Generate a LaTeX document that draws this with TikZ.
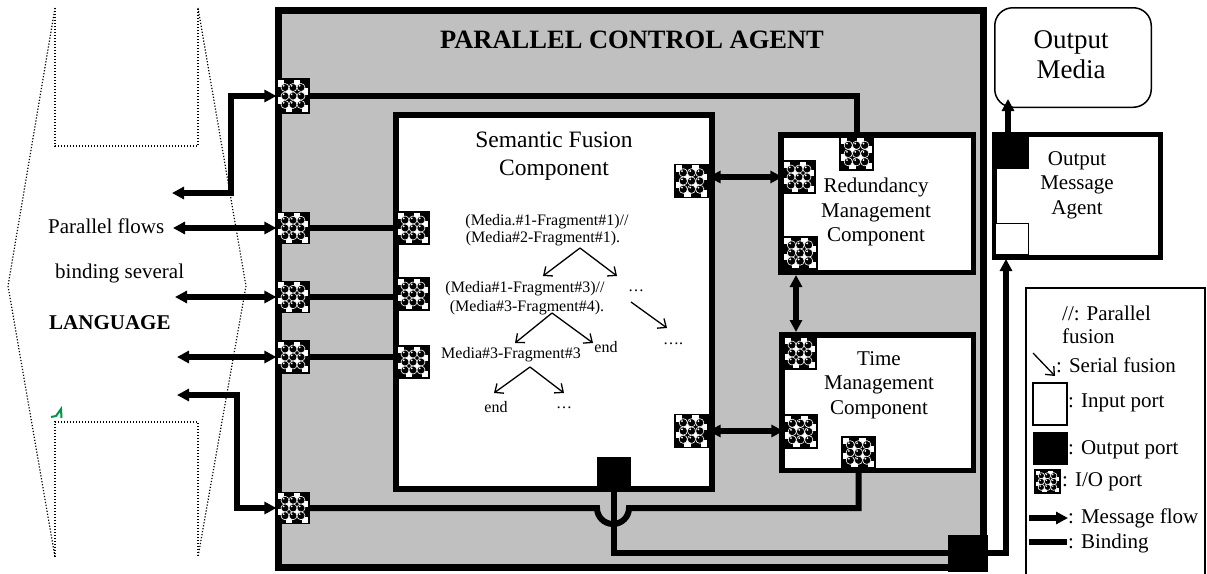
\documentclass[tikz,border=0pt]{standalone}
\usepackage{fontspec}
\setmainfont{Liberation Serif}
\usetikzlibrary{arrows.meta}
\definecolor{panelgray}{RGB}{192,192,192}
\definecolor{markgreen}{RGB}{0,150,70}

\tikzset{
  bind/.style={line width=6pt, line cap=butt, line join=miter},
  msg/.style={bind, -{Triangle[length=12pt,width=12pt]}},
  bimsg/.style={bind, {Triangle[length=12pt,width=12pt]}-{Triangle[length=12pt,width=12pt]}},
  tarrow/.style={line width=1.3pt, -{Straight Barb[length=7pt,width=12pt,line width=1.3pt]}},
  dotline/.style={line width=1.2pt, dash pattern=on 1.2pt off 1.8pt},
  box/.style={draw=black, fill=white, inner sep=0pt},
  ioportbox/.style={draw=black, fill=black, line width=1.2pt, inner sep=0pt},
  outportbox/.style={draw=black, fill=black, line width=1pt, inner sep=0pt},
  inportbox/.style={draw=black, fill=white, line width=1.5pt, inner sep=0pt},
  titletext/.style={font=\fontsize{26.5}{30}\selectfont\bfseries, inner sep=0pt},
  semtext/.style={font=\fontsize{23.5}{28}\selectfont, align=center, inner sep=0pt},
  comptext/.style={font=\fontsize{21}{24.5}\selectfont, align=center, inner sep=0pt},
  sidetext/.style={font=\fontsize{21}{24}\selectfont, anchor=west, inner sep=0pt},
  treetext/.style={font=\fontsize{16}{19}\selectfont, inner sep=0pt},
  legtext/.style={font=\fontsize{21}{24}\selectfont, anchor=west, inner sep=0pt},
  mediatext/.style={font=\fontsize{27}{30}\selectfont, align=center, inner sep=0pt},
}

% I/O port: black square with a white checker and dark shaded balls
\newcommand\ioport[5]{%
  \node[ioportbox, minimum width=#4pt, minimum height=#5pt] (#1) at (#2,#3) {};
  \foreach \i in {0,...,3}{%
    \foreach \j in {0,...,3}{%
      \pgfmathtruncatemacro\ioparity{mod(\i+\j,2)}%
      \ifnum\ioparity=0
        \fill[white] ({#2-#4/2+\i*#4/4+0.8},{#3-#5/2+\j*#5/4+0.8}) rectangle ++({#4/4-1.6},{#5/4-1.6});
      \fi
    }%
  }%
  \foreach \i in {1,2,3}{%
    \foreach \j in {1,2,3}{%
      \filldraw[fill=black, draw=white, line width=0.6pt] ({#2-#4/2+\i*#4/4},{#3-#5/2+\j*#5/4}) circle[radius={#4*0.125pt}];
      \fill[white] ({#2-#4/2+\i*#4/4-#4*0.04},{#3-#5/2+\j*#5/4-#5*0.05}) circle[radius={#4*0.03pt}];
    }%
  }%
}

\begin{document}
\begin{tikzpicture}[x=1pt, y=-1pt]
\useasboundingbox (0,0) rectangle (1207,573);

% ---- dotted funnel on the left ----
\draw[dotline] (55,8) -- (55,146) -- (198,146) -- (198,8);
\draw[dotline] (55,557) -- (55,422) -- (198,422) -- (198,557);
\draw[dotline] (55,8) -- (8,286) -- (55,557);
\draw[dotline] (198,8) -- (246,286) -- (198,557);
\draw[markgreen, line width=2pt, line join=miter] (51,417) -- (56,416) -- (61,409) -- (61.5,418);

\node[sidetext] (flows) at (48,226) {Parallel flows};
\node[sidetext] (several) at (55,273) {binding several};
\node[sidetext, font=\fontsize{21}{24}\selectfont\bfseries] (lang) at (49,323) {LANGUAGE};

% ---- agent boxes ----
\node[box, fill=panelgray, line width=7pt, minimum width=705pt, minimum height=557.5pt] (pca) at (631,289) {};
\node[titletext] (pcatitle) at (632,40) {PARALLEL CONTROL AGENT};

\node[box, line width=6pt, minimum width=316pt, minimum height=374pt] (sem) at (554,302) {};
\node[semtext] (semlabel) at (554,156) {Semantic Fusion\\Component};

\node[box, line width=5.5pt, minimum width=192.5pt, minimum height=137.5pt] (red) at (877,203.5) {};
\node[comptext] (redlabel) at (876,212) {Redundancy\\Management\\Component};

\node[box, line width=5.5pt, minimum width=191.5pt, minimum height=135.5pt] (time) at (877.5,402.5) {};
\node[comptext] (timelabel) at (879,385) {Time\\Management\\Component};

\node[box, line width=5pt, minimum width=166pt, minimum height=123pt] (oma) at (1077.5,196) {};
\node[comptext] (omalabel) at (1077,185) {Output\\Message\\Agent};

\node[box, line width=1.5pt, rounded corners=18pt, minimum width=156.5pt, minimum height=99.5pt] (media) at (1073,57.5) {};
\node[mediatext] (medialabel) at (1071,55) {Output\\Media};

% ---- ports ----
\ioport{pA}{293}{96}{32}{34}
\ioport{pB}{293}{228}{32}{31}
\ioport{pC}{293}{297}{32}{31}
\ioport{pD}{293}{357}{32}{32}
\ioport{pE}{293}{508}{32}{31}
\ioport{sL1}{413}{228}{32}{32}
\ioport{sL2}{413}{294}{32}{32}
\ioport{sL3}{413}{362}{32}{32}
\ioport{sR1}{691.5}{181}{33}{33}
\ioport{sR2}{691.5}{431}{33}{33}
\ioport{rT}{856.5}{153.5}{33}{33}
\ioport{rL1}{799}{177}{32}{32}
\ioport{rL2}{800}{253}{34}{32}
\ioport{tL1}{800}{353}{32}{32}
\ioport{tL2}{800.5}{431.5}{33}{33}
\ioport{tB}{858.5}{452.5}{33}{31}

\node[outportbox, minimum width=33pt, minimum height=33pt] (sOut) at (613.5,473.5) {};
\node[outportbox, minimum width=39pt, minimum height=36pt] (bOut) at (967.5,553) {};
\node[outportbox, minimum width=36pt, minimum height=36pt] (omaOut) at (1010,150) {};
\node[inportbox, minimum width=33pt, minimum height=31pt] (omaIn) at (1012,239) {};

% ---- message flows from outside ----
\coordinate (tl) at (172,193);
\coordinate (tk) at (231,0);
\draw[bimsg] (tl) -| (tk |- pA.west) -- (pA.west);
\coordinate (la1) at (173,228);
\coordinate (la2) at (175,297);
\coordinate (la3) at (177,357);
\draw[bimsg] (la1) -- (pB.west);
\draw[bimsg] (la2) -- (pC.west);
\draw[bimsg] (la3) -- (pD.west);
\coordinate (bl) at (177,395);
\coordinate (bk) at (237,0);
\draw[bimsg] (bl) -| (bk |- pE.west) -- (pE.west);

% ---- bindings inside the agent ----
\draw[bind] (pA.east) -| (rT.north);
\draw[bind] (pB.east) -- (pB.east -| sL1.west);
\draw[bind] (pC.east) -- (pC.east -| sL2.west);
\draw[bind] (pD.east) -- (pD.east -| sL3.west);
\coordinate (hopL) at (597,508);
\draw[bind] (pE.east) -- (hopL) arc[start angle=180, end angle=0, radius=16] -- (tB.south |- hopL) -- (tB.south);
\draw[bind] (sOut.south) |- (bOut.west);

% ---- message flows between components ----
\draw[bimsg] (sR1.east |- rL1.west) -- (rL1.west);
\draw[bimsg] (sR2.east) -- (sR2.east -| tL2.west);
\coordinate (vx) at (796,0);
\draw[bimsg] (red.south -| vx) -- (time.north -| vx);
\coordinate (omaArr) at (1006,259);
\draw[msg] (bOut.east) -| (omaArr);
\coordinate (mArr) at (1008,99);
\draw[msg] (mArr |- omaOut.north) -- (mArr);

% ---- fusion tree ----
\node[treetext] (t1) at (547,222) {(Media.\#1-Fragment\#1)//};
\node[treetext] (t2) at (543,239) {(Media\#2-Fragment\#1).};
\node[treetext] (t3) at (525,289) {(Media\#1-Fragment\#3)//};
\node[treetext] (t3b) at (636,291) {…};
\node[treetext] (t4) at (527,308) {(Media\#3-Fragment\#4).};
\node[treetext] (t5) at (606,347) {end};
\node[treetext] (t6) at (673,344) {….};
\node[treetext] (t7) at (511,355) {Media\#3-Fragment\#3};
\node[treetext] (t8) at (496,407) {end};
\node[treetext] (t9) at (564,408) {…};

\coordinate (f1) at (580,248);
\coordinate (f1a) at (543,276);
\coordinate (f1b) at (617,276);
\draw[tarrow] (f1) -- (f1a);
\draw[tarrow] (f1) -- (f1b);
\coordinate (f2) at (552,313);
\coordinate (f2a) at (515,343);
\coordinate (f2b) at (593,343);
\draw[tarrow] (f2) -- (f2a);
\draw[tarrow] (f2) -- (f2b);
\coordinate (f3) at (631,302);
\coordinate (f3a) at (667,328);
\draw[tarrow] (f3) -- (f3a);
\coordinate (f4) at (530,367);
\coordinate (f4a) at (494,393);
\coordinate (f4b) at (564,393);
\draw[tarrow] (f4) -- (f4a);
\draw[tarrow] (f4) -- (f4b);

% ---- legend ----
\draw[line width=1.5pt] (1026,580) -- (1026,288) -- (1205,288) -- (1205,580);
\node[legtext] (lg1) at (1062,313) {//: Parallel};
\node[legtext] (lg1b) at (1062,336) {fusion};
\coordinate (ls1) at (1033,353);
\coordinate (ls2) at (1055,376);
\draw[tarrow] (ls1) -- (ls2);
\node[legtext] (lg2) at (1056,365) {: Serial fusion};
\node[inportbox, minimum width=34pt, minimum height=42pt] (lgIn) at (1050,404) {};
\node[legtext] (lg3) at (1068,403) {: Input port};
\node[outportbox, minimum width=34pt, minimum height=32pt] (lgOut) at (1050,448) {};
\node[legtext] (lg4) at (1068,450) {: Output port};
\ioport{lgIO}{1047.5}{481.5}{25}{23}
\node[legtext] (lg5) at (1062,482) {: I/O port};
\coordinate (lm1) at (1029,518);
\coordinate (lm2) at (1068,518);
\draw[msg] (lm1) -- (lm2);
\node[legtext] (lg6) at (1068,518) {: Message flow};
\coordinate (lb1) at (1029,542);
\coordinate (lb2) at (1067,542);
\draw[bind] (lb1) -- (lb2);
\node[legtext] (lg7) at (1068,543) {: Binding};
\end{tikzpicture}
\end{document}
